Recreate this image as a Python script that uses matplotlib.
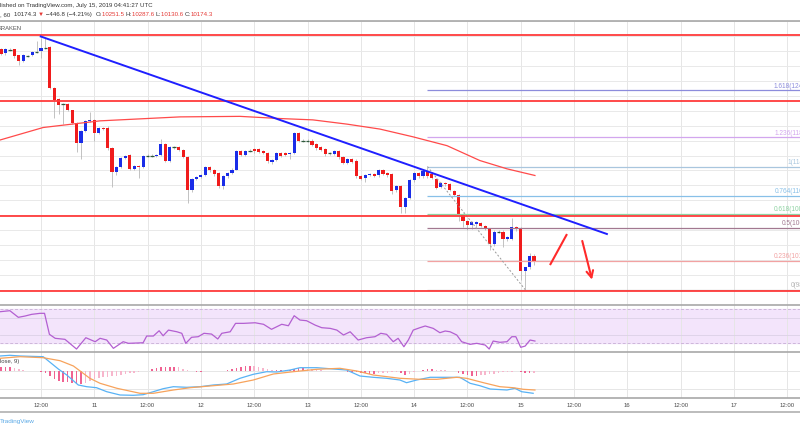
import matplotlib
matplotlib.use('Agg')
import matplotlib.pyplot as plt
import numpy as np
from matplotlib.lines import Line2D

# hourly candles, first one is July 10 03:00 (hours counted from July 10 00:00 UTC)
opens = [13020, 12967, 13015, 13020, 12940, 12861, 12938, 12947, 12985, 12993,
         13045, 13047, 12506, 12352, 12288, 12286, 12206, 12037, 11768, 11931,
         12064, 12081, 11901, 11967, 11975, 11696, 11377, 11444, 11563, 11603,
         11422, 11457, 11444, 11595, 11597, 11595, 11608, 11754, 11533, 11709,
         11709, 11675, 11586, 11134, 11290, 11311, 11333, 11444, 11400, 11364,
         11187, 11320, 11364, 11413, 11656, 11608, 11665, 11692, 11685, 11656,
         11635, 11519, 11546, 11630, 11635, 11622, 11635, 11901, 11798, 11800,
         11798, 11754, 11709, 11690, 11630, 11622, 11665, 11576, 11497, 11555,
         11533, 11320, 11303, 11333, 11356, 11333, 11409, 11364, 11347, 11134,
         11187, 10912, 11037, 11267, 11364, 11320, 11391, 11356, 11290, 11178,
         11231, 11214, 11125, 11077, 10816, 10723, 10669, 10689, 10696, 10656,
         10620, 10413, 10581, 10581, 10480, 10484, 10639, 10626, 10049, 10102,
         10251.5]
highs = [13045, 13040, 13035, 13030, 12950, 12955, 12950, 12995, 13126, 13166,
         13179, 13060, 12520, 12370, 12300, 12300, 12215, 12050, 11945, 12080,
         12187, 12095, 11980, 11980, 11990, 11710, 11460, 11580, 11610, 11615,
         11470, 11470, 11610, 11615, 11615, 11625, 11825, 11770, 11725, 11725,
         11725, 11690, 11600, 11305, 11325, 11350, 11460, 11460, 11415, 11380,
         11335, 11380, 11430, 11670, 11670, 11680, 11685, 11705, 11700, 11670,
         11650, 11560, 11645, 11645, 11650, 11650, 11915, 11915, 11815, 11815,
         11815, 11770, 11725, 11705, 11650, 11680, 11680, 11590, 11570, 11570,
         11550, 11335, 11350, 11370, 11370, 11425, 11425, 11380, 11360, 11205,
         11200, 11050, 11285, 11380, 11380, 11425, 11453, 11370, 11305, 11245,
         11245, 11230, 11140, 11090, 10830, 10740, 10730, 10725, 10712, 10670,
         10635, 10600, 10600, 10600, 10520, 10762, 10655, 10640, 10115, 10290,
         10287.6]
lows = [12940, 12950, 12995, 12905, 12808, 12845, 12920, 12930, 12970, 12900,
        13030, 12490, 12108, 12157, 12024, 12190, 12020, 11643, 11559, 11915,
        12050, 11798, 11885, 11945, 11680, 11178, 11340, 11430, 11550, 11400,
        11400, 11294, 11430, 11580, 11580, 11585, 11595, 11515, 11515, 11690,
        11660, 11570, 10966, 11110, 11275, 11295, 11320, 11385, 11330, 11170,
        11150, 11300, 11350, 11400, 11595, 11595, 11645, 11640, 11635, 11615,
        11505, 11490, 11530, 11580, 11590, 11560, 11620, 11780, 11780, 11780,
        11725, 11680, 11655, 11600, 11610, 11605, 11560, 11480, 11480, 11495,
        11300, 11275, 11250, 11320, 11315, 11318, 11340, 11318, 11080, 11110,
        10829, 10829, 11020, 11250, 11305, 11305, 11305, 11285, 11150, 11160,
        11195, 11125, 11060, 10730, 10640, 10600, 10620, 10640, 10640, 10600,
        10337, 10395, 10560, 10380, 10460, 10470, 10595, 9939, 9806, 10085,
        10130.6]
closes = [12960, 13020, 13013, 12933, 12861, 12940, 12936, 12980, 12987, 13033,
          13047, 12506, 12343, 12276, 12286, 12206, 12037, 11768, 11931, 12064,
          12081, 11901, 11967, 11958, 11696, 11377, 11444, 11563, 11595, 11422,
          11457, 11444, 11595, 11597, 11599, 11608, 11754, 11533, 11709, 11711,
          11675, 11586, 11134, 11290, 11311, 11333, 11444, 11400, 11347, 11187,
          11320, 11364, 11413, 11656, 11608, 11665, 11663, 11656, 11652, 11630,
          11523, 11546, 11630, 11599, 11608, 11635, 11901, 11798, 11800, 11798,
          11741, 11696, 11675, 11622, 11632, 11665, 11576, 11497, 11555, 11510,
          11320, 11290, 11333, 11356, 11330, 11409, 11356, 11333, 11125, 11187,
          10912, 11037, 11267, 11364, 11320, 11391, 11320, 11303, 11170, 11231,
          11214, 11143, 11077, 10816, 10723, 10669, 10713, 10709, 10656, 10620,
          10413, 10581, 10583, 10480, 10506, 10639, 10612, 10049, 10102, 10258,
          10174.3]

# 100 hour moving average
ma_hours = [2.8, 12.5, 25.3, 43.3, 56.8, 65.8, 73.2, 80.9, 88.3, 95.7, 103.4, 110.8, 116.9, 123.2]
ma_values = [11808, 11975, 12064, 12117, 12124, 12095, 12077, 12020, 11954, 11851, 11732, 11533, 11422, 11333]

# drawn levels
red_levels = [13206, 12325, 10793, 9793]
trend_hours = [11.94, 139.4]
trend_prices = [13193, 10550]

fib_ratios = [1.618, 1.236, 1, 0.764, 0.618, 0.5, 0.236, 0]
fib_colors = ['#8c8cdc', '#d2a6ee', '#a9c6de', '#88c0e8', '#8ed3a2', '#a27890', '#f2a2a2', '#b4b4b4']
fib_low = 9806
fib_high = 11453
fib_high_hour = 99
fib_low_hour = 121

up_line_hours = [126.7, 130.3]
up_line_prices = [10147, 10537]
down_arrow_hours = [133.7, 136.2]
down_arrow_prices = [10493, 9903]

# RSI(14)
rsi_hours = [2.8, 5.0, 6.9, 8.4, 9.9, 11.8, 12.8, 13.9, 15.2, 17.4, 20.0, 22.1, 24.2, 25.3, 26.8,
             28.3, 30.5, 31.7, 35.0, 35.8, 37.3, 38.6, 39.5, 40.7, 42.6, 43.7, 44.6, 45.9, 47.4,
             48.7, 50.4, 51.8, 52.7, 54.6, 55.8, 57.6, 60.2, 62.1, 63.9, 66.2, 67.7, 69.0, 70.3,
             71.8, 73.7, 75.2, 77.1, 78.6, 80.1, 81.6, 83.4, 85.3, 87.2, 88.5, 89.8, 91.3, 92.4,
             93.7, 94.7, 95.8, 97.3, 98.5, 100.3, 101.8, 103.0, 104.1, 105.6, 106.7, 108.6, 110.1,
             112.0, 112.9, 113.8, 115.3, 116.9, 118.0, 118.9, 120.0, 121.0, 122.1, 123.2]
rsi_values = [67.2, 68.4, 60.6, 62.1, 64.1, 65.3, 65.3, 40.6, 35.9, 34.7, 23.3, 36.6, 31.9, 35.9, 33.9,
              24.1, 31.9, 30.0, 30.7, 38.6, 38.6, 44.8, 38.9, 45.6, 43.6, 41.8, 30.0, 37.1, 37.8,
              41.8, 40.9, 35.1, 41.8, 43.6, 53.5, 53.5, 54.2, 52.4, 46.5, 52.4, 50.7, 62.5, 57.4,
              56.6, 51.5, 48.4, 47.6, 45.6, 39.8, 43.6, 33.9, 36.6, 37.8, 41.8, 40.6, 31.9, 35.9,
              26.0, 33.9, 45.6, 48.4, 50.4, 47.6, 42.5, 44.5, 43.6, 39.8, 31.9, 28.8, 30.0,
              28.0, 23.3, 32.7, 31.2, 31.9, 37.8, 37.8, 25.3, 26.8, 33.9, 32.7]

# MACD(12, 26, close, 9)
macd_hours = [2.8, 5.0, 7.3, 12.5, 15.9, 17.8, 20.4, 22.3, 24.5, 26.8, 29.8, 32.8, 35.0, 37.3, 39.5,
              41.8, 44.8, 47.8, 50.8, 53.8, 56.8, 59.8, 62.8, 65.1, 68.1, 70.3, 74.1, 77.8, 80.8,
              83.8, 86.8, 89.8, 92.8, 94.3, 96.6, 99.6, 103.3, 106.3, 108.6, 110.8, 113.1, 116.9,
              118.7, 120.2, 122.8]
macd_values = [150, 157, 150, 143, 20, -40, -140, -157, -167, -207, -240, -243, -237, -207, -177,
               -157, -163, -157, -140, -130, -73, -33, -7, -10, 10, 33, 33, 20, 10,
               -50, -63, -73, -90, -117, -90, -63, -63, -63, -123, -147, -180, -190,
               -173, -207, -223]
signal_hours = [2.8, 7.3, 12.5, 16.3, 19.3, 21.5, 23.0, 25.3, 29.1, 34.3, 37.3, 41.8, 45.6, 50.8,
                55.3, 59.8, 64.3, 68.8, 74.1, 79.3, 83.1, 86.8, 92.8, 97.3, 101.1, 105.6, 107.8,
                111.6, 115.3, 118.3, 120.6, 123.2]
signal_values = [127, 143, 133, 103, 50, -23, -73, -123, -173, -223, -223, -190, -167, -147,
                 -130, -90, -30, -7, 17, 27, 0, -40, -73, -83, -83, -63, -73,
                 -117, -157, -167, -183, -190]
hist_values = [37, 37, 43, 33, 20, 7, 0, 0, -3, -7,
               -23, -50, -83, -103, -107, -113, -120, -127, -130, -117,
               -100, -83, -67, -60, -57, -50, -47, -37, -27, -23,
               -17, -10, -3, 0, 17, 27, 37, 40, 43, 43,
               37, 20, 7, -3, -7, -10, -3, 0, 0, 0,
               3, 10, 17, 33, 43, 50, 53, 47, 40, 27,
               17, 10, 10, 10, 10, 13, 20, 27, 27, 23,
               17, 10, 7, 3, 3, 0, -3, -3, -7, -10,
               -13, -17, -23, -27, -30, -23, -20, -17, -10, -7,
               -23, -37, -27, -13, -3, 7, 17, 20, 13, 10,
               7, 3, 0, -17, -33, -43, -50, -50, -43, -40,
               -33, -27, -20, -13, -10, -7, 3, -10, -23, -23,
               -17]

tick_hours = [12, 24, 36, 48, 60, 72, 84, 96, 108, 120, 132, 144, 156, 168, 180]
tick_labels = ['12:00', '11', '12:00', '12', '12:00', '13', '12:00', '14', '12:00',
               '15', '12:00', '16', '12:00', '17', '12:00']

header_1 = 'lished on TradingView.com, July 15, 2019 04:41:27 UTC'
header_2 = [(', 60  ', '#333333'), ('10174.3 ', '#333333'), ('\u25bc', '#e53935'),
            (' \u2212446.8 (\u22124.21%)  ', '#333333'),
            ('O:', '#333333'), ('10251.5 ', '#e53935'), ('H:', '#333333'), ('10287.6 ', '#e53935'),
            ('L:', '#333333'), ('10130.6 ', '#e53935'), ('C:', '#333333'), ('10174.3', '#e53935')]

plt.rcParams['font.family'] = ['Liberation Sans', 'DejaVu Sans']

H = 430.0
fig = plt.figure(figsize=(8, 4.3), dpi=100)
ax_p = fig.add_axes([0, 125 / H, 1, 284 / H])
ax_r = fig.add_axes([0, 78 / H, 1, 47 / H])
ax_m = fig.add_axes([0, 32 / H, 1, 46 / H])

for ax in (ax_p, ax_r, ax_m):
    ax.set_xlim(2.775, 182.87)
    for s in ax.spines.values():
        s.set_visible(False)
    ax.spines['top'].set_visible(True)
    ax.spines['top'].set_color('#a8a8a8')
    ax.spines['top'].set_linewidth(1.2)
    ax.set_xticks(tick_hours)
    ax.tick_params(axis='both', length=0, labelleft=False, labelbottom=False)
    ax.grid(axis='x', color='#e6e6e6', lw=0.7)
    ax.set_axisbelow(True)

# ---- price pane
ax_p.set_ylim(9607, 13379)
ax_p.set_yticks(np.arange(9600, 13401, 200))
ax_p.grid(axis='y', color='#e9e9e9', lw=0.7)

o = np.array(opens)
hi = np.array(highs)
lo = np.array(lows)
c = np.array(closes)
hours = np.arange(3, 3 + len(o))

ax_p.vlines(hours, lo, hi, color='#b8b8b8', lw=0.6, zorder=2)
body = np.abs(c - o)
doji = body < 4
cols = np.where(c > o, '#1a2de8', '#f01c1c')
ax_p.bar(hours[~doji], body[~doji], width=0.7, bottom=np.minimum(o, c)[~doji],
         color=cols[~doji], zorder=3)
ax_p.hlines(o[doji], hours[doji] - 0.4, hours[doji] + 0.4, color='#2f5a3c', lw=0.9, zorder=3)

for v in red_levels:
    ax_p.axhline(v, color='#ff3b3b', lw=1.3, zorder=4)

ax_p.plot(ma_hours, ma_values, color='#ff4a4a', lw=0.9, zorder=4)
ax_p.plot(trend_hours, trend_prices, color='#1f1fff', lw=1.4, zorder=5)

for r, col in zip(fib_ratios, fib_colors):
    price = fib_low + r * (fib_high - fib_low)
    ax_p.hlines(price, fib_high_hour, 190, color=col, lw=0.9, zorder=3)
    ax_p.text(186.9, price + 10, f'{r:g}({price:.1f})', color=col, fontsize=4.7,
              ha='right', va='bottom', clip_on=True)
ax_p.plot([fib_high_hour, fib_low_hour], [fib_high, fib_low], color='#9a9a9a', lw=0.7,
          ls=(0, (2, 2)), zorder=3)

ax_p.plot(up_line_hours, up_line_prices, color='#ff2a2a', lw=1.5, zorder=6)
ax_p.annotate('', xy=(down_arrow_hours[1], down_arrow_prices[1]),
              xytext=(down_arrow_hours[0], down_arrow_prices[0]),
              arrowprops=dict(arrowstyle='->', color='#ff2a2a', lw=1.5, mutation_scale=12),
              zorder=6)

# ---- RSI pane
ax_r.set_ylim(19.8, 75.1)
ax_r.axhspan(30, 70, color='#f3e4fb', zorder=0)
ax_r.axhline(70, color='#cdb6da', lw=0.7, ls=(0, (3, 2)))
ax_r.axhline(30, color='#cdb6da', lw=0.7, ls=(0, (3, 2)))
ax_r.axhline(60, color='#dcd0e6', lw=0.6)
ax_r.axhline(40, color='#dcd0e6', lw=0.6)
ax_r.plot(rsi_hours, rsi_values, color='#b35fd1', lw=0.9)

# ---- MACD pane
ax_m.set_ylim(-270, 190)
ax_m.spines['bottom'].set_visible(True)
ax_m.spines['bottom'].set_color('#a8a8a8')
ax_m.spines['bottom'].set_linewidth(1.2)
ax_m.axhline(0, color='#e6e6e6', lw=0.7, zorder=0)
ax_m.axhline(-180, color='#e6e6e6', lw=0.7, zorder=0)
hv = np.array(hist_values)
growing = np.abs(hv) >= np.abs(np.concatenate([[0], hv[:-1]]))
hist_cols = np.where(growing, '#f06292', '#f7b6cc')
ax_m.bar(hours, hv, width=0.35, color=hist_cols, zorder=2)
ax_m.plot(macd_hours, macd_values, color='#58b2f5', lw=0.9, zorder=3)
ax_m.plot(signal_hours, signal_values, color='#f7a35c', lw=0.9, zorder=3)
ax_m.set_xticklabels(tick_labels)
ax_m.tick_params(axis='x', labelbottom=True, labelsize=4.3, labelcolor='#4a4a4a', pad=3.5)

# ---- texts and frame lines
fig.add_artist(Line2D([0, 1], [18 / H, 18 / H], color='#b0b0b0', lw=1.2))
fig.text(0.0, 1 - 6 / H, header_1, fontsize=4.4, color='#333333', va='center')

renderer = fig.canvas.get_renderer()
x = 0.0
for s, col in header_2:
    t = fig.text(x, 1 - 14.5 / H, s, fontsize=4.4, color=col, va='center')
    x = t.get_window_extent(renderer).x1 / fig.bbox.width

fig.text(-0.003, 1 - 29 / H, 'KRAKEN', fontsize=4.2, color='#555555', va='center')
fig.text(0.0, 1 - 361 / H, 'lose, 9)', fontsize=4.2, color='#444444', va='center')
fig.text(0.0, 1 - 421 / H, 'TradingView', fontsize=4.6, color='#5aa9e6', va='center')

fig.savefig('out.png', dpi=100, facecolor='white')
